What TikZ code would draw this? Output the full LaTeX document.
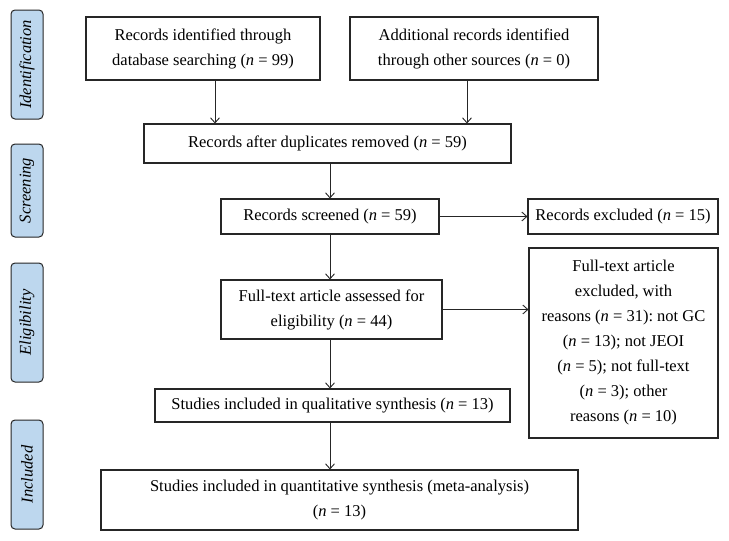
\documentclass[tikz,border=0pt]{standalone}
\usepackage{fontspec}
\setmainfont{Liberation Serif}
\usetikzlibrary{arrows.meta}
\definecolor{phase}{RGB}{189,215,238}
\newcommand{\nn}{\textit{n}}
\frenchspacing
\begin{document}
\begin{tikzpicture}[x=1pt,y=-1pt,>={Straight Barb[length=5pt,width=9pt]},
  box/.style={draw=black!85,line width=1.1pt,align=center,inner sep=0pt,font=\fontsize{16.5}{25}\selectfont},
  stage/.style={draw=black!85,line width=1pt,fill=phase,rounded corners=4pt,rotate=90,minimum height=32pt,inner sep=0pt,font=\fontsize{16.5}{20}\selectfont\itshape},
  link/.style={->,line width=0.9pt,black!85}]
\useasboundingbox (0,0) rectangle (729,541);
\foreach \y/\len/\stagename in {64.5/109/Identification,190.5/93/Screening,322.5/119/Eligibility,474.5/109/Included}
{
    \node[stage,minimum width=\len pt] (\stagename) at (27,\y) {\stagename};
}
\node[box,minimum width=234,minimum height=63] (db) at (203,48.5) {Records identified through\\database searching (\nn{} = 99)};
\node[box,minimum width=248,minimum height=63] (other) at (474,48.5) {Additional records identified\\through other sources (\nn{} = 0)};
\node[box,minimum width=367,minimum height=39] (dup) at (327.5,143.5) {Records after duplicates removed (\nn{} = 59)};
\node[box,minimum width=218,minimum height=35] (scr) at (330,216.5) {Records screened (\nn{} = 59)};
\node[box,minimum width=190,minimum height=35] (excl) at (623,216.5) {Records excluded (\nn{} = 15)};
\node[box,minimum width=221,minimum height=59] (full) at (331.5,309.5) {Full-text article assessed for\\eligibility (\nn{} = 44)};
\node[box,minimum width=189,minimum height=190] (reas) at (623.5,343) {Full-text article\\excluded, with\\reasons (\nn{} = 31): not GC\\(\nn{} = 13); not JEOI\\(\nn{} = 5); not full-text\\(\nn{} = 3); other\\reasons (\nn{} = 10)};
\node[box,minimum width=355,minimum height=33] (qual) at (332.5,405.5) {Studies included in qualitative synthesis (\nn{} = 13)};
\node[box,minimum width=477,minimum height=60] (quan) at (339.5,500) {Studies included in quantitative synthesis (meta-analysis)\\(\nn{} = 13)};
\draw[link] ([xshift=12pt]db.south) -- ([xshift=12pt]db.south |- dup.north);
\draw[link] ([xshift=-7pt]other.south) -- ([xshift=-7pt]other.south |- dup.north);
\draw[link] (scr.north |- dup.south) -- (scr.north);
\draw[link] (scr.east) -- (excl.west);
\draw[link] (scr.south) -- (scr.south |- full.north);
\draw[link] (full.east) -- (full.east -| reas.west);
\draw[link] (scr.south |- full.south) -- (scr.south |- qual.north);
\draw[link] (scr.south |- qual.south) -- (scr.south |- quan.north);
\end{tikzpicture}
\end{document}
